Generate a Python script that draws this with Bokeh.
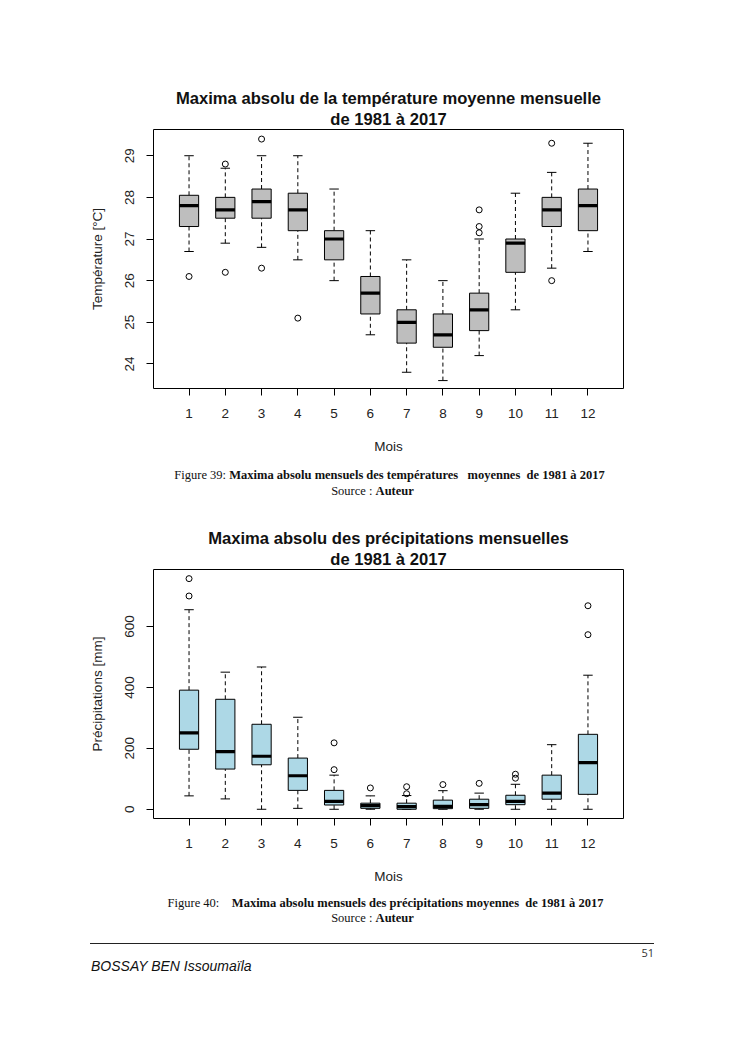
from bokeh.plotting import figure
from bokeh.models import Range1d, FixedTicker, Title, Div
from bokeh.layouts import column
from bokeh.embed import file_html
from bokeh.resources import INLINE

# ---------------- data ----------------
months = [1, 2, 3, 4, 5, 6, 7, 8, 9, 10, 11, 12]

# Temperature (°C) box statistics
temp_whisk_hi = [29.0, 28.7, 29.0, 29.0, 28.2, 27.2, 26.5, 26.0, 27.0, 28.1, 28.6, 29.3]
temp_q3 = [28.05, 28.0, 28.2, 28.1, 27.2, 26.1, 25.3, 25.2, 25.7, 27.0, 28.0, 28.2]
temp_median = [27.8, 27.7, 27.9, 27.7, 27.0, 25.7, 25.0, 24.7, 25.3, 26.9, 27.7, 27.8]
temp_q1 = [27.3, 27.5, 27.5, 27.2, 26.5, 25.2, 24.5, 24.4, 24.8, 26.2, 27.3, 27.2]
temp_whisk_lo = [26.7, 26.9, 26.8, 26.5, 26.0, 24.7, 23.8, 23.6, 24.2, 25.3, 26.3, 26.7]
temp_out_month = [1, 2, 2, 3, 3, 4, 9, 9, 9, 11, 11]
temp_out_value = [26.1, 28.8, 26.2, 29.4, 26.3, 25.1, 27.7, 27.3, 27.15, 29.3, 26.0]
temp_ticks = [24, 25, 26, 27, 28, 29]

# Precipitation (mm) box statistics
prec_whisk_hi = [655, 450, 467, 302, 112, 44, 45, 61, 53, 82, 212, 440]
prec_q3 = [391, 361, 279, 168, 62, 20, 20, 30, 33, 46, 112, 246]
prec_median = [251, 189, 174, 110, 26, 12, 8.5, 9.5, 15, 26, 53, 153]
prec_q1 = [197, 132, 146, 62, 14, 3, 0, 2, 3, 15, 33, 49]
prec_whisk_lo = [44, 34, 0, 3, 0, 0, 0, 0, 0, 0, 0, 0]
prec_out_month = [1, 1, 5, 5, 6, 7, 7, 8, 9, 10, 10, 12, 12]
prec_out_value = [757, 700, 218, 130, 70, 74, 51, 81, 85, 115, 102, 668, 573]
prec_ticks = [0, 200, 400, 600]

FONT = "Liberation Sans"
BOX_W = 0.53
CAP_W = 0.13


def boxplot_fig(height, top, bottom, yr, title1, title2, ylabel, yticks,
                whi, q3, med, q1, wlo, om, ov, fill):
    p = figure(width=729, height=height, x_range=Range1d(0.02, 12.98), y_range=Range1d(*yr),
               output_backend="svg", toolbar_location=None,
               min_border_left=145, min_border_right=114,
               min_border_top=top, min_border_bottom=bottom,
               background_fill_color="white", border_fill_color="white",
               outline_line_color="black", outline_line_width=1,
               title=title1)
    p.title.align = "center"
    p.title.text_font = FONT
    p.title.text_font_size = "16.6px"
    p.title.text_font_style = "bold"
    p.title.text_color = "#111111"
    p.title.standoff = 0
    t2 = Title(text=title2, align="center", text_font=FONT, text_font_size="16.6px",
               text_font_style="bold", text_color="#111111", standoff=1)
    p.add_layout(t2, "above")
    p.grid.visible = False

    # whiskers (dashed) and caps
    p.segment(x0=months, y0=q3, x1=months, y1=whi, line_color="black", line_width=1, line_dash="4 3")
    p.segment(x0=months, y0=wlo, x1=months, y1=q1, line_color="black", line_width=1, line_dash="4 3")
    xl = [m - CAP_W for m in months]
    xr = [m + CAP_W for m in months]
    p.segment(x0=xl, y0=whi, x1=xr, y1=whi, line_color="black", line_width=1)
    p.segment(x0=xl, y0=wlo, x1=xr, y1=wlo, line_color="black", line_width=1)
    # boxes
    p.vbar(x=months, width=BOX_W, top=q3, bottom=q1, fill_color=fill, line_color="black", line_width=1)
    # medians
    bl = [m - BOX_W / 2 for m in months]
    br = [m + BOX_W / 2 for m in months]
    p.segment(x0=bl, y0=med, x1=br, y1=med, line_color="black", line_width=3.2)
    # outliers
    p.scatter(x=om, y=ov, marker="circle", size=6, fill_color=None, line_color="black", line_width=1)

    for ax in (p.xaxis[0], p.yaxis[0]):
        ax.axis_line_color = None
        ax.major_tick_out = 7
        ax.major_tick_in = 0
        ax.minor_tick_line_color = None
        ax.major_tick_line_color = "black"
        ax.major_label_text_font = FONT
        ax.major_label_text_font_size = "13.5px"
        ax.major_label_text_color = "#222222"
        ax.axis_label_text_font = FONT
        ax.axis_label_text_font_size = "13.5px"
        ax.axis_label_text_font_style = "normal"
        ax.axis_label_text_color = "#222222"
    p.xaxis.ticker = FixedTicker(ticks=months)
    p.xaxis.major_label_standoff = 13
    p.xaxis.axis_label = "Mois"
    p.xaxis.axis_label_standoff = 18
    p.yaxis.ticker = FixedTicker(ticks=yticks)
    p.yaxis.major_label_orientation = "vertical"
    p.yaxis.major_label_standoff = 12
    p.yaxis.axis_label = ylabel
    p.yaxis.axis_label_standoff = 18
    return p


p1 = boxplot_fig(448, 121, 68, (23.41, 29.63),
                 "Maxima absolu de la température moyenne mensuelle", "de 1981 à 2017",
                 "Température [°C]", temp_ticks,
                 temp_whisk_hi, temp_q3, temp_median, temp_q1, temp_whisk_lo,
                 temp_out_month, temp_out_value, "#BEBEBE")

p2 = boxplot_fig(376, 59, 68, (-30.3, 787.0),
                 "Maxima absolu des précipitations mensuelles", "de 1981 à 2017",
                 "Précipitations [mm]", prec_ticks,
                 prec_whisk_hi, prec_q3, prec_median, prec_q1, prec_whisk_lo,
                 prec_out_month, prec_out_value, "#ADD8E6")

SERIF = "font-family:'Liberation Serif','Times New Roman',serif;font-size:12.5px;color:#111;line-height:14px;"

cap1 = Div(width=729, height=54, margin=0, text=(
    f'<div style="position:relative;width:729px;height:54px;{SERIF}">'
    '<div style="position:absolute;left:17px;top:12px;width:729px;text-align:center;white-space:pre;">'
    'Figure 39: <b>Maxima absolu mensuels des températures   moyennes  de 1981 à 2017</b></div>'
    '<div style="position:absolute;left:0px;top:28px;width:729px;text-align:center;white-space:pre;">'
    'Source : <b>Auteur</b></div></div>'))

cap2 = Div(width=729, height=100, margin=0, text=(
    f'<div style="position:relative;width:729px;height:100px;{SERIF}">'
    '<div style="position:absolute;left:13px;top:10px;width:729px;text-align:center;white-space:pre;">'
    'Figure 40:    <b>Maxima absolu mensuels des précipitations moyennes  de 1981 à 2017</b></div>'
    '<div style="position:absolute;left:0px;top:25px;width:729px;text-align:center;white-space:pre;">'
    'Source : <b>Auteur</b></div>'
    '<div style="position:absolute;left:82px;top:57px;width:564px;height:0px;border-top:1px solid #222;"></div>'
    '<div style="position:absolute;left:82px;top:60px;width:564px;text-align:right;'
    'font-family:\'Open Sans\',sans-serif;font-size:11px;color:#333;">51</div>'
    '<div style="position:absolute;left:83px;top:73px;white-space:pre;'
    'font-family:\'Liberation Sans\',Arial,sans-serif;font-style:italic;font-size:14px;color:#111;">'
    'BOSSAY BEN Issoumaïla</div>'
    '</div>'))

layout = column(p1, cap1, p2, cap2, spacing=0, margin=(8, 0, 0, 8))

open("out.html", "w").write(file_html(layout, INLINE))
